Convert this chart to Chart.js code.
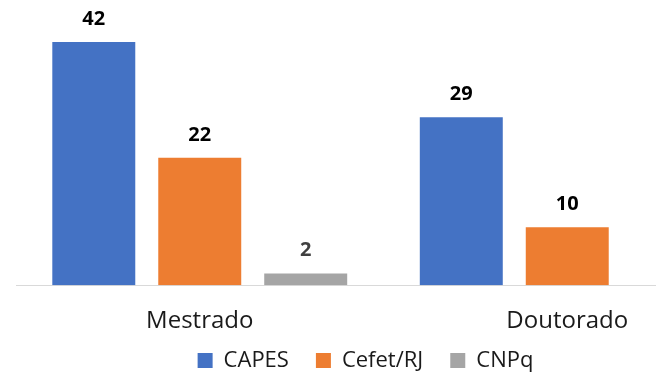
<!DOCTYPE html>
<html>
<head>
<meta charset="utf-8">
<script src="https://cdn.jsdelivr.net/npm/chart.js@4.4.1/dist/chart.umd.min.js"></script>
<style>
  html, body { margin: 0; padding: 0; background: #fff; overflow: hidden; }
  #wrap { position: relative; width: 752px; height: 373px; }
</style>
</head>
<body>
<div id="wrap"><canvas id="c"></canvas></div>
<script>
// Bolsas por nível de curso e agência de fomento
const categories = ['Mestrado', 'Doutorado'];
const seriesNames = ['CAPES', 'Cefet/RJ', 'CNPq'];
const capes = [42, 29];
const cefet = [22, 10];
const cnpq = [2, null];
const seriesColors = ['#4472C4', '#ED7D31', '#A5A5A5'];
const valueLabelColors = ['#000000', '#000000', '#404040'];

const FONT = '"Open Sans", "Liberation Sans", sans-serif';

// Value labels above each bar
const valueLabels = {
  id: 'valueLabels',
  afterDatasetsDraw(chart) {
    const ctx = chart.ctx;
    ctx.save();
    ctx.font = 'bold 20px ' + FONT;
    ctx.textAlign = 'center';
    ctx.textBaseline = 'middle';
    chart.data.datasets.forEach((ds, i) => {
      const meta = chart.getDatasetMeta(i);
      meta.data.forEach((bar, j) => {
        const v = ds.data[j];
        if (v === null || v === undefined) return;
        ctx.fillStyle = valueLabelColors[i];
        ctx.fillText(String(v), bar.x, bar.y - 23);
      });
    });
    ctx.restore();
  }
};

// Legend row under the axis labels
const bottomLegend = {
  id: 'bottomLegend',
  afterDraw(chart) {
    const ctx = chart.ctx;
    ctx.save();
    ctx.font = '22px ' + FONT;
    ctx.textBaseline = 'middle';
    const box = 15, gapText = 11, gapItem = 27;
    const widths = chart.data.datasets.map(ds => ctx.measureText(ds.label).width);
    let total = 0;
    widths.forEach((w, i) => { total += box + gapText + w + (i < widths.length - 1 ? gapItem : 0); });
    let x = 365.5 - total / 2;
    const cy = 360.5;
    chart.data.datasets.forEach((ds, i) => {
      ctx.fillStyle = ds.backgroundColor;
      ctx.fillRect(x, cy - box / 2, box, box);
      x += box + gapText;
      ctx.fillStyle = '#1a1a1a';
      ctx.fillText(ds.label, x, cy);
      x += widths[i] + gapItem;
    });
    ctx.restore();
  }
};

const seriesData = [capes, cefet, cnpq];

new Chart(document.getElementById('c'), {
  type: 'bar',
  data: {
    labels: categories,
    datasets: seriesNames.map((name, i) => ({
      label: name,
      data: seriesData[i],
      backgroundColor: seriesColors[i],
      borderWidth: 0,
      barPercentage: 0.783,
      categoryPercentage: 0.865
    }))
  },
  options: {
    responsive: true,
    maintainAspectRatio: false,
    animation: false,
    layout: { padding: { left: 16, right: 1, top: 24.7, bottom: 15 } },
    plugins: {
      legend: { display: false },
      tooltip: { enabled: false }
    },
    scales: {
      x: {
        grid: { display: false, drawTicks: false },
        border: { display: true, color: '#d9d9d9', width: 1 },
        ticks: {
          color: '#1a1a1a',
          padding: 22,
          font: { family: FONT, size: 24 }
        }
      },
      y: {
        display: false,
        min: 0,
        max: 45
      }
    }
  },
  plugins: [valueLabels, bottomLegend]
});
</script>
</body>
</html>
